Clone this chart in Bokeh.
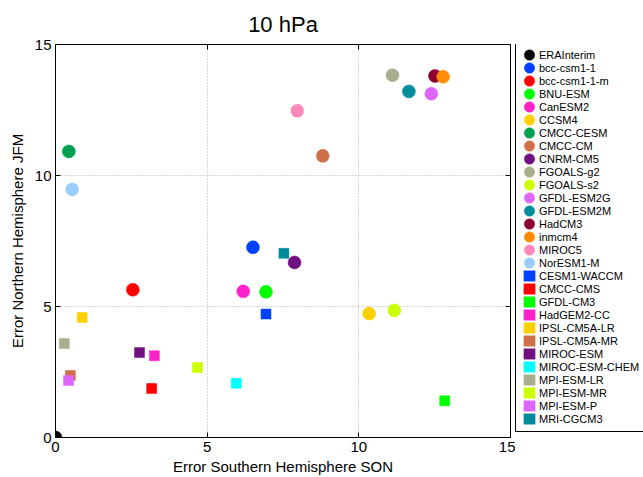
from bokeh.plotting import figure
from bokeh.models import Range1d, FixedTicker, Legend, LegendItem, LinearAxis, CustomJSTickFormatter
from bokeh.layouts import row
from bokeh.embed import file_html
from bokeh.resources import INLINE

models = ["ERAInterim", "bcc-csm1-1", "bcc-csm1-1-m", "BNU-ESM", "CanESM2", "CCSM4",
          "CMCC-CESM", "CMCC-CM", "CNRM-CM5", "FGOALS-g2", "FGOALS-s2", "GFDL-ESM2G",
          "GFDL-ESM2M", "HadCM3", "inmcm4", "MIROC5", "NorESM1-M",
          "CESM1-WACCM", "CMCC-CMS", "GFDL-CM3", "HadGEM2-CC", "IPSL-CM5A-LR",
          "IPSL-CM5A-MR", "MIROC-ESM", "MIROC-ESM-CHEM", "MPI-ESM-LR", "MPI-ESM-MR",
          "MPI-ESM-P", "MRI-CGCM3"]
err_son = [0.0, 6.51, 2.55, 6.94, 6.19, 10.34,
           0.44, 8.81, 7.88, 11.11, 11.17, 12.39,
           11.65, 12.51, 12.78, 7.97, 0.55,
           6.94, 3.17, 12.83, 3.26, 0.88,
           0.49, 2.77, 5.96, 0.29, 4.68,
           0.43, 7.53]
err_jfm = [0.0, 7.26, 5.64, 5.56, 5.58, 4.73,
           10.92, 10.75, 6.68, 13.83, 4.85, 13.12,
           13.21, 13.80, 13.77, 12.47, 9.47,
           4.71, 1.87, 1.40, 3.12, 4.58,
           2.37, 3.24, 2.07, 3.59, 2.67,
           2.18, 7.03]
markers = ["circle"] * 17 + ["square"] * 12
colors = ["#000000", "#0040ff", "#ff0000", "#00ff00", "#ff22c8", "#ffd000",
          "#00a050", "#d07048", "#701080", "#a8ae8c", "#ccff00", "#dd66ff",
          "#008c9c", "#8c0033", "#ff8c00", "#ff88bb", "#99ccff",
          "#0040ff", "#ff0000", "#00ff00", "#ff22c8", "#ffd000",
          "#d07048", "#701080", "#00ffff", "#a8ae8c", "#ccff00",
          "#dd66ff", "#008c9c"]
ticks = [0, 5, 10, 15]

FONT = "Liberation Sans"


def draw(fig, i):
    if markers[i] == "circle":
        return fig.ellipse(x=[err_son[i]], y=[err_jfm[i]], width=13, height=13,
                           width_units="screen", height_units="screen",
                           fill_color=colors[i], line_color=colors[i], line_width=0.5)
    return fig.rect(x=[err_son[i]], y=[err_jfm[i]], width=10, height=10,
                    width_units="screen", height_units="screen",
                    fill_color=colors[i], line_color=colors[i], line_width=0.5)


p = figure(width=515, height=477, output_backend="svg", toolbar_location=None,
           x_range=Range1d(0, 15), y_range=Range1d(0, 15),
           min_border_left=55, min_border_top=44, min_border_bottom=40,
           min_border_right=5, title="10 hPa")
p.title.align = "center"
p.title.text_font = FONT
p.title.text_font_size = "22px"
p.title.text_font_style = "normal"
p.title.text_color = "black"
p.title.standoff = 16
p.outline_line_color = "black"
p.outline_line_width = 1
p.background_fill_color = "white"
p.border_fill_color = "white"

for ax in (p.xaxis[0], p.yaxis[0]):
    ax.ticker = FixedTicker(ticks=ticks)
    ax.major_tick_in = 5
    ax.major_tick_out = 0
    ax.major_tick_line_color = "black"
    ax.minor_tick_line_color = None
    ax.major_label_text_font = FONT
    ax.major_label_text_font_size = "15px"
    ax.major_label_text_color = "black"
    ax.axis_label_text_font = FONT
    ax.axis_label_text_font_size = "15px"
    ax.axis_label_text_font_style = "normal"
    ax.axis_label_text_color = "black"
    ax.axis_line_color = "black"
    ax.major_label_standoff = 4
p.xaxis.axis_label = "Error Southern Hemisphere SON"
p.yaxis.axis_label = "Error Northern Hemisphere JFM"
p.xaxis.axis_label_standoff = 3
p.yaxis.axis_label_standoff = 6

blank = CustomJSTickFormatter(code="return ''")
for side in ("above", "right"):
    ax = LinearAxis(ticker=FixedTicker(ticks=ticks), formatter=blank,
                    major_tick_in=5, major_tick_out=0, minor_tick_line_color=None,
                    major_tick_line_color="black",
                    axis_line_color=None, major_label_standoff=0,
                    major_label_text_font_size="1px")
    p.add_layout(ax, side)

for g in p.grid:
    g.ticker = FixedTicker(ticks=[5, 10])
    g.grid_line_color = "#b0b0b0"
    g.grid_line_dash = "1 2"

for i in range(len(models)):
    draw(p, i)

# legend panel (its own renderers lie outside its ranges; only the legend shows)
lf = figure(width=128, height=477, output_backend="svg", toolbar_location=None,
            x_axis_type=None, y_axis_type=None,
            x_range=Range1d(-3, -2), y_range=Range1d(-3, -2),
            min_border_left=0, min_border_right=0, min_border_top=0, min_border_bottom=0)
lf.outline_line_color = None
lf.grid.visible = False
lf.background_fill_color = "white"
lf.border_fill_color = "white"

items = []
for i in range(len(models)):
    r = draw(lf, i)
    items.append(LegendItem(label=models[i], renderers=[r]))

legend = Legend(items=items, location=(0, 5), margin=0, padding=6, spacing=0,
                glyph_height=13, glyph_width=14, label_height=13, label_width=120,
                label_text_font=FONT, label_text_font_size="11px",
                label_text_color="black",
                label_standoff=3, border_line_color="black", border_line_alpha=1.0,
                border_line_width=1.5, background_fill_color="white",
                background_fill_alpha=1.0)
lf.add_layout(legend, "center")

open("out.html", "w").write(file_html(row(p, lf), INLINE))
